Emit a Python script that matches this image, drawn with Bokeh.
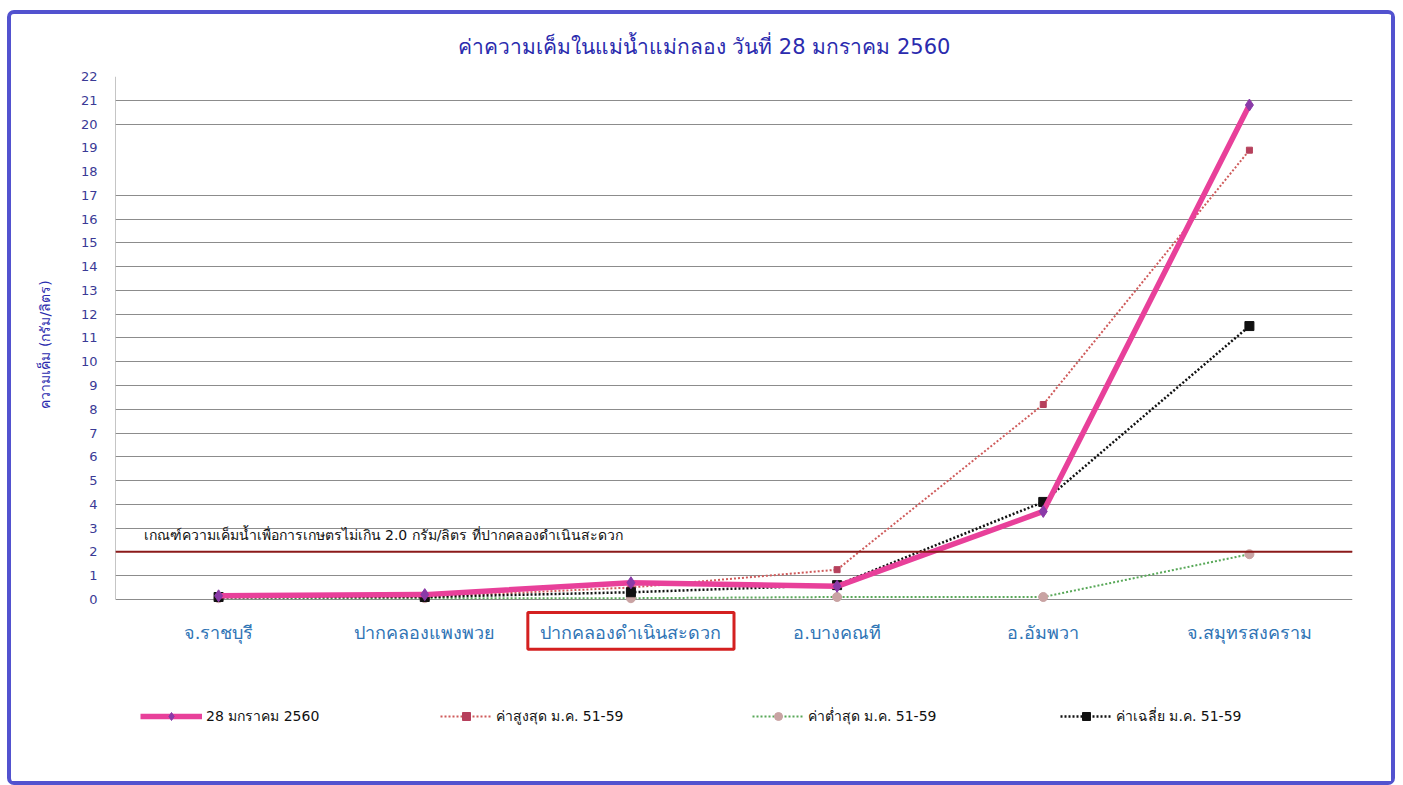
from bokeh.plotting import figure
from bokeh.models import (FactorRange, Range1d, FixedTicker, Span, Legend, LegendItem,
                          BoxAnnotation, Title)
from bokeh.embed import file_html
from bokeh.resources import INLINE
from bokeh.core.properties import value

# ---------------- data ----------------
stations = ["จ.ราชบุรี", "ปากคลองแพงพวย", "ปากคลองดำเนินสะดวก",
            "อ.บางคณที", "อ.อัมพวา", "จ.สมุทรสงคราม"]
salinity_2560 = [0.15, 0.20, 0.70, 0.55, 3.70, 20.80]
salinity_max = [0.10, 0.10, 0.50, 1.25, 8.20, 18.90]
salinity_min = [0.05, 0.05, 0.05, 0.10, 0.10, 1.90]
salinity_avg = [0.10, 0.10, 0.30, 0.60, 4.10, 11.50]
threshold = 2.0
threshold_text = "เกณฑ์ความเค็มน้ำเพื่อการเกษตรไม่เกิน 2.0 กรัม/ลิตร ที่ปากคลองดำเนินสะดวก"
legend_labels = ["28 มกราคม 2560", "ค่าสูงสุด ม.ค. 51-59", "ค่าต่ำสุด ม.ค. 51-59", "ค่าเฉลี่ย ม.ค. 51-59"]
title_text = "ค่าความเค็มในแม่น้ำแม่กลอง วันที่ 28 มกราคม 2560"
y_label = "ความเค็ม (กรัม/ลิตร)"
highlight_station = "ปากคลองดำเนินสะดวก"
y_ticks = list(range(0, 23))
grid_ticks = [t for t in y_ticks if t not in (18, 19)]

FONT = "DejaVu Sans"
BLUE_DARK = "#2b2bae"

p = figure(x_range=FactorRange(factors=stations, range_padding=0),
           y_range=Range1d(-7.2, 22),
           width=1388, height=775,
           output_backend="svg", toolbar_location=None,
           min_border_left=104, min_border_right=47,
           min_border_top=62, min_border_bottom=19)
p.margin = (10, 0, 0, 7)
p.styles = {"border": "4px solid #5252cf", "border-radius": "7px", "box-sizing": "border-box"}

p.title.text = title_text
p.title.align = "left"
p.title.offset = 342
p.title.vertical_align = "bottom"
p.title.text_font = FONT
p.title.text_font_size = "21px"
p.title.text_font_style = "normal"
p.title.text_color = BLUE_DARK
p.title.standoff = 35

p.outline_line_color = None
p.background_fill_color = "white"
p.border_fill_color = "white"

# y axis (ticks 0..22 only)
p.yaxis.ticker = FixedTicker(ticks=y_ticks)
p.yaxis.major_label_text_font = FONT
p.yaxis.major_label_text_font_size = "13px"
p.yaxis.major_label_text_color = "#3a3a96"
p.yaxis.major_label_standoff = 12
p.yaxis.major_tick_line_color = None
p.yaxis.minor_tick_line_color = None
p.yaxis.axis_line_color = None

# y axis title (placed on the left, aligned with the 0-22 region)
p.add_layout(Title(text=y_label, align="left", offset=362, vertical_align="middle",
                   standoff=48, text_font=FONT, text_font_size="14px",
                   text_font_style="normal", text_color=BLUE_DARK), "left")

p.xaxis.visible = False
p.xgrid.grid_line_color = None
p.ygrid.ticker = FixedTicker(ticks=grid_ticks)
p.ygrid.grid_line_color = "#8c8c8c"
p.ygrid.grid_line_width = 1
p.ygrid.grid_line_alpha = 1

# left frame edge of the 0-22 region
p.segment(x0=[0], y0=[0], x1=[0], y1=[22], line_color="#8c8c8c", line_width=1)

# station labels + highlight box
p.text(x=stations, y=[-1.39] * len(stations), text=stations, text_font=value(FONT),
       text_font_size="18px", text_color="#2f74b5", text_align="center", text_baseline="middle")
hi = stations.index(highlight_station)
p.add_layout(BoxAnnotation(left=hi, right=hi + 1, bottom=-2.1, top=-0.55,
                           fill_alpha=0, line_color="#d42020", line_alpha=1, line_width=3))

# threshold line + label
p.add_layout(Span(location=threshold, dimension="width", line_color="#8b1a1a", line_width=2))
p.text(x=[0.136], y=[threshold + 0.7], text=[threshold_text], text_font=value(FONT),
       text_font_size="14px", text_color="#111111", text_baseline="middle", text_align="left")

# series
r_min_l = p.line(stations, salinity_min, line_color="#58a858", line_width=2, line_dash="2 2")
r_min_m = p.scatter(stations, salinity_min, marker="circle", size=9, fill_color="#c9a3a3", line_color="#c9a3a3")
r_max_l = p.line(stations, salinity_max, line_color="#cf5b5b", line_width=2, line_dash="2 2")
r_max_m = p.scatter(stations, salinity_max, marker="square", size=6, fill_color="#b6405c", line_color="#b6405c")
r_avg_l = p.line(stations, salinity_avg, line_color="#111111", line_width=2.5, line_dash="2 2")
r_avg_m = p.scatter(stations, salinity_avg, marker="square", size=9, fill_color="#111111", line_color="#111111")
r_cur_l = p.line(stations, salinity_2560, line_color="#e8409a", line_width=5.5)
r_cur_m = p.scatter(stations, salinity_2560, marker="diamond", size=12, fill_color="#8a3aa8", line_color="#8a3aa8")

# legends (one per entry, placed like the original)
entries = [
    (legend_labels[0], [r_cur_l, r_cur_m], 25, 62),
    (legend_labels[1], [r_max_l, r_max_m], 325, 52),
    (legend_labels[2], [r_min_l, r_min_m], 637, 52),
    (legend_labels[3], [r_avg_l, r_avg_m], 945, 52),
]
for label, rends, x0, gw in entries:
    lg = Legend(items=[LegendItem(label=label, renderers=rends)], location=(x0, 43),
                glyph_width=gw, label_standoff=4, padding=0, margin=0,
                border_line_color=None, background_fill_alpha=0,
                label_text_font=FONT, label_text_font_size="14px", label_text_color="#111111")
    p.add_layout(lg)

open("out.html", "w").write(file_html(p, INLINE))
